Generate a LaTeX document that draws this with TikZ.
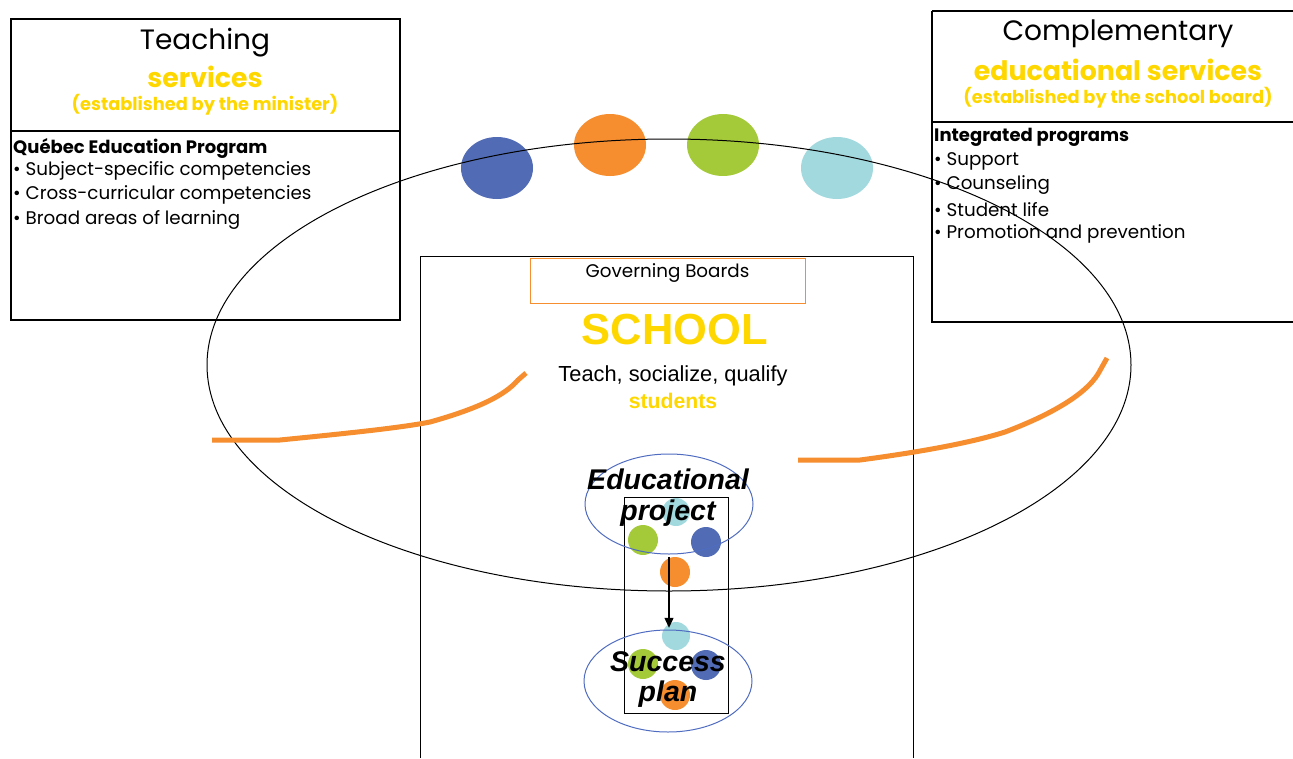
\documentclass[tikz,border=0pt]{standalone}
\usepackage{fontspec}
\newfontfamily\cg{Poppins}
\newfontfamily\ar{Liberation Sans}
\usetikzlibrary{arrows.meta}
\definecolor{qyel}{HTML}{FFD700}
\definecolor{qblue}{HTML}{516BB5}
\definecolor{qorange}{HTML}{F68E2F}
\definecolor{qgreen}{HTML}{A4CA3A}
\definecolor{qlight}{HTML}{A2D9DE}
\definecolor{qell}{HTML}{4F6CC0}
\tikzset{
  boxline/.style={draw=black, line width=1.2pt},
  dot/.style={circle, inner sep=0pt, minimum size=#1},
  stroke/.style={draw=qorange, line width=5pt},
  title/.style={font=\cg\fontsize{28}{31}\selectfont, text=black},
  ytitle/.style={font=\cg\bfseries\fontsize{26.8}{30}\selectfont, text=qyel},
  ysub/.style={font=\cg\bfseries\fontsize{17.8}{21}\selectfont, text=qyel},
  item/.style={font=\cg\fontsize{18.3}{21}\selectfont, anchor=west, inner sep=0pt},
  ital/.style={font=\ar\bfseries\itshape\fontsize{28.5}{31}\selectfont, inner sep=0pt},
}
\usetikzlibrary{shapes.geometric}
\begin{document}
\begin{tikzpicture}[x=1pt,y=-1pt]
\useasboundingbox (0,0) rectangle (1293,758);
% left box
\draw[boxline] (11,19) rectangle (400,320);
\draw[boxline] (11,131) -- (400,131);
\node[title] (lt) at (205,43) {Teaching};
\node[ytitle] (ls) at (205,77) {services};
\node[ysub] (le) at (205,104.5) {(established by the minister)};
\node[item, font=\cg\bfseries\fontsize{18}{21}\selectfont] (lq) at (13,148) {Québec Education Program};
\node[item] (l1) at (13,171) {• Subject-specific competencies};
\node[item] (l2) at (13,195) {• Cross-curricular competencies};
\node[item] (l3) at (13,220) {• Broad areas of learning};
% right box
\draw[boxline] (932,11) -- (1293,11);
\draw[boxline] (932,11) -- (932,322) -- (1293,322);
\draw[boxline] (932,122) -- (1293,122);
\node[title] (rt) at (1118,34) {Complementary};
\node[ytitle] (rs) at (1118,70) {educational services};
\node[ysub] (re) at (1118,97.5) {(established by the school board)};
\node[item, font=\cg\bfseries\fontsize{18}{21}\selectfont] (rq) at (934,137) {Integrated programs};
\node[item] (r1) at (934,161) {• Support};
\node[item] (r2) at (934,185) {• Counseling};
\node[item] (r3) at (934,210) {• Student life};
\node[item] (r4) at (934,234) {• Promotion and prevention};
% school box
\draw[line width=1pt] (420,758) -- (420,256) -- (913,256) -- (913,758);
\node[draw=qorange, line width=1pt, minimum width=275pt, minimum height=45pt, inner sep=0pt] (gb) at (667.5,280.5) {};
\node[font=\cg\fontsize{18.3}{21}\selectfont, anchor=north] (gbt) at (667.5,260) {Governing Boards};
\node[font=\ar\bfseries\fontsize{43.5}{47}\selectfont, text=qyel] (sch) at (675,330) {SCHOOL};
\node[font=\ar\fontsize{21.8}{24}\selectfont] (tsq) at (673,376) {Teach, socialize, qualify};
\node[font=\ar\bfseries\fontsize{21.2}{24}\selectfont, text=qyel] (stu) at (673,401) {students};
% top dots
\fill[qblue] (497,168) ellipse (36 and 31);
\fill[qorange] (610,145) ellipse (36 and 31);
\fill[qgreen] (723,145) ellipse (36 and 31);
\fill[qlight] (837,168) ellipse (36 and 31);
% small dots
\node[dot=28pt, fill=qlight] (el) at (676,512) {};
\node[dot=30pt, fill=qgreen] (eg) at (643,540) {};
\node[dot=30pt, fill=qblue] (eb) at (706,542) {};
\node[dot=30pt, fill=qorange] (eo) at (675,572) {};
\node[dot=28pt, fill=qlight] (sl) at (676,636) {};
\node[dot=30pt, fill=qgreen] (sg) at (643,664) {};
\node[dot=30pt, fill=qblue] (sb) at (706,665) {};
\node[dot=30pt, fill=qorange] (so) at (675,695) {};
% inner rectangle
\draw[line width=1pt] (624,497) rectangle (728,713);
% ellipses
\draw[qell, line width=1pt] (669,504) ellipse (84 and 50);
\draw[qell, line width=1pt] (668,681) ellipse (84 and 51);
\node[ital] (t1) at (668,479) {Educational};
\node[ital] (t2) at (668,513) {project};
\node[ital] (t3) at (668,662) {Success};
\node[ital] (t4) at (668,694) {plan};
\draw[-{Triangle[length=10pt,width=9pt]}, line width=1.2pt] ([xshift=-6pt]eo.north) -- ([xshift=-7pt,yshift=-6pt]sl.north);
% big ellipse
\draw[line width=1pt] (669,365) ellipse (462 and 226);
% orange strokes
\draw[stroke] (212,440) -- (280,440) .. controls (340,434) and (400,428) .. (430,422)
  .. controls (480,408) and (505,395) .. (518,380) -- (526,373);
\draw[stroke] (798,460) -- (860,460) .. controls (920,452) and (970,443) .. (1005,432)
  .. controls (1050,415) and (1085,395) .. (1098,374) -- (1107,358);
\end{tikzpicture}
\end{document}
